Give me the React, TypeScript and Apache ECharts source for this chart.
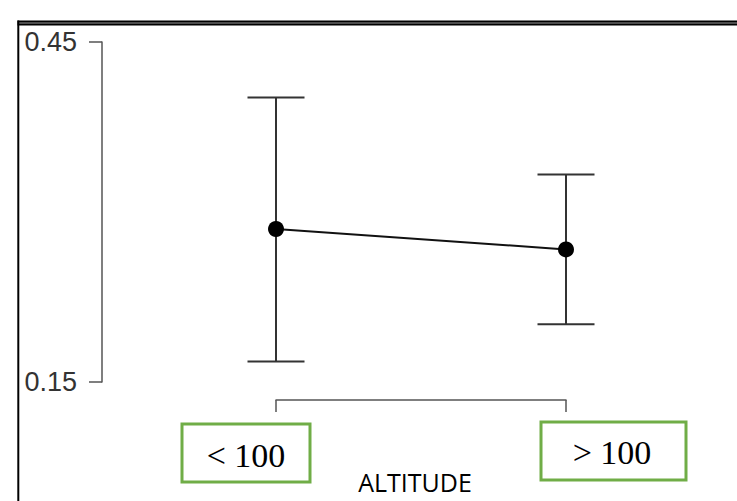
import React, { useEffect, useRef } from 'react';
import * as echarts from 'echarts';

const categories = ['< 100', '> 100'];
const xPositions = [1, 2];
const means = [0.285, 0.267];
const lowers = [0.168, 0.201];
const uppers = [0.401, 0.333];
const yTicks = [0.15, 0.45];
const axisTitle = 'ALTITUDE';

export default function App() {
  const ref = useRef<HTMLDivElement>(null);
  useEffect(() => {
    const chart = echarts.init(ref.current!, null, { renderer: 'svg' });
    const option: any = {
      animation: false,
      backgroundColor: '#ffffff',
      grid: [
        { left: 102, top: 42, bottom: 119, width: 609 },
        { left: 276, top: 400, height: 12, width: 290 },
      ],
      xAxis: [
        { gridIndex: 0, type: 'value', min: 0.4, max: 2.5, show: false },
        {
          gridIndex: 1, type: 'value', min: 1, max: 2, interval: 1, position: 'top',
          axisLine: { show: true, onZero: false, lineStyle: { color: '#555', width: 1.5 } },
          axisTick: { show: true, inside: true, length: 12, lineStyle: { color: '#555', width: 1.5 } },
          axisLabel: { show: false }, splitLine: { show: false },
        },
      ],
      yAxis: [
        {
          gridIndex: 0, type: 'value', min: 0.15, max: 0.45, interval: 0.15,
          axisLine: { show: true, lineStyle: { color: '#555', width: 1.5 } },
          axisTick: { show: true, length: 13, customValues: yTicks, lineStyle: { color: '#555', width: 1.5 } },
          axisLabel: {
            customValues: yTicks, margin: 25, fontSize: 27, color: '#333',
            fontFamily: 'Liberation Sans, Arial, sans-serif',
            formatter: (v: number) => v.toFixed(2),
          },
          splitLine: { show: false },
        },
        { gridIndex: 1, type: 'value', show: false, min: 0, max: 1 },
      ],
      series: [
        {
          type: 'custom', xAxisIndex: 0, yAxisIndex: 0, z: 1,
          data: xPositions.map((x, i) => [x, lowers[i], uppers[i]]),
          renderItem: (params: any, api: any) => {
            const x = api.value(0);
            const lo = api.coord([x, api.value(1)]);
            const hi = api.coord([x, api.value(2)]);
            const half = 28.5;
            const style = { stroke: '#333', lineWidth: 2 };
            return {
              type: 'group',
              children: [
                { type: 'line', shape: { x1: lo[0], y1: lo[1], x2: hi[0], y2: hi[1] }, style },
                { type: 'line', shape: { x1: lo[0] - half, y1: lo[1], x2: lo[0] + half, y2: lo[1] }, style },
                { type: 'line', shape: { x1: hi[0] - half, y1: hi[1], x2: hi[0] + half, y2: hi[1] }, style },
              ],
            };
          },
        },
        {
          type: 'line', xAxisIndex: 0, yAxisIndex: 0, z: 3,
          data: xPositions.map((x, i) => [x, means[i]]),
          symbol: 'circle', symbolSize: 16,
          itemStyle: { color: '#000' },
          lineStyle: { color: '#111', width: 2 },
        },
      ],
      graphic: [
        { type: 'rect', shape: { x: 17.5, y: 20.5, width: 720, height: 5 }, style: { fill: '#000' } },
        { type: 'line', shape: { x1: 19, y1: 23, x2: 737, y2: 23 }, style: { stroke: '#999', lineWidth: 1 } },
        { type: 'line', shape: { x1: 18.3, y1: 20.5, x2: 18.3, y2: 501 }, style: { stroke: '#000', lineWidth: 2 } },
        { type: 'rect', shape: { x: 182, y: 424, width: 128, height: 58 }, style: { fill: '#fff', stroke: '#70AD47', lineWidth: 3 } },
        { type: 'text', x: 246, y: 455, style: { text: categories[0], fill: '#000', font: '34px "Liberation Serif", "Times New Roman", serif', align: 'center', verticalAlign: 'middle' } },
        { type: 'rect', shape: { x: 541, y: 422, width: 145, height: 58 }, style: { fill: '#fff', stroke: '#70AD47', lineWidth: 3 } },
        { type: 'text', x: 612, y: 452, style: { text: categories[1], fill: '#000', font: '34px "Liberation Serif", "Times New Roman", serif', align: 'center', verticalAlign: 'middle' } },
        { type: 'text', x: 415, y: 482, style: { text: axisTitle, fill: '#000', font: '25px "Open Sans", sans-serif', align: 'center', verticalAlign: 'middle' } },
      ],
    };
    chart.setOption(option);
    return () => chart.dispose();
  }, []);
  return <div ref={ref} style={{ position: 'fixed', left: 0, top: 0, width: 737, height: 501 }} />;
}
